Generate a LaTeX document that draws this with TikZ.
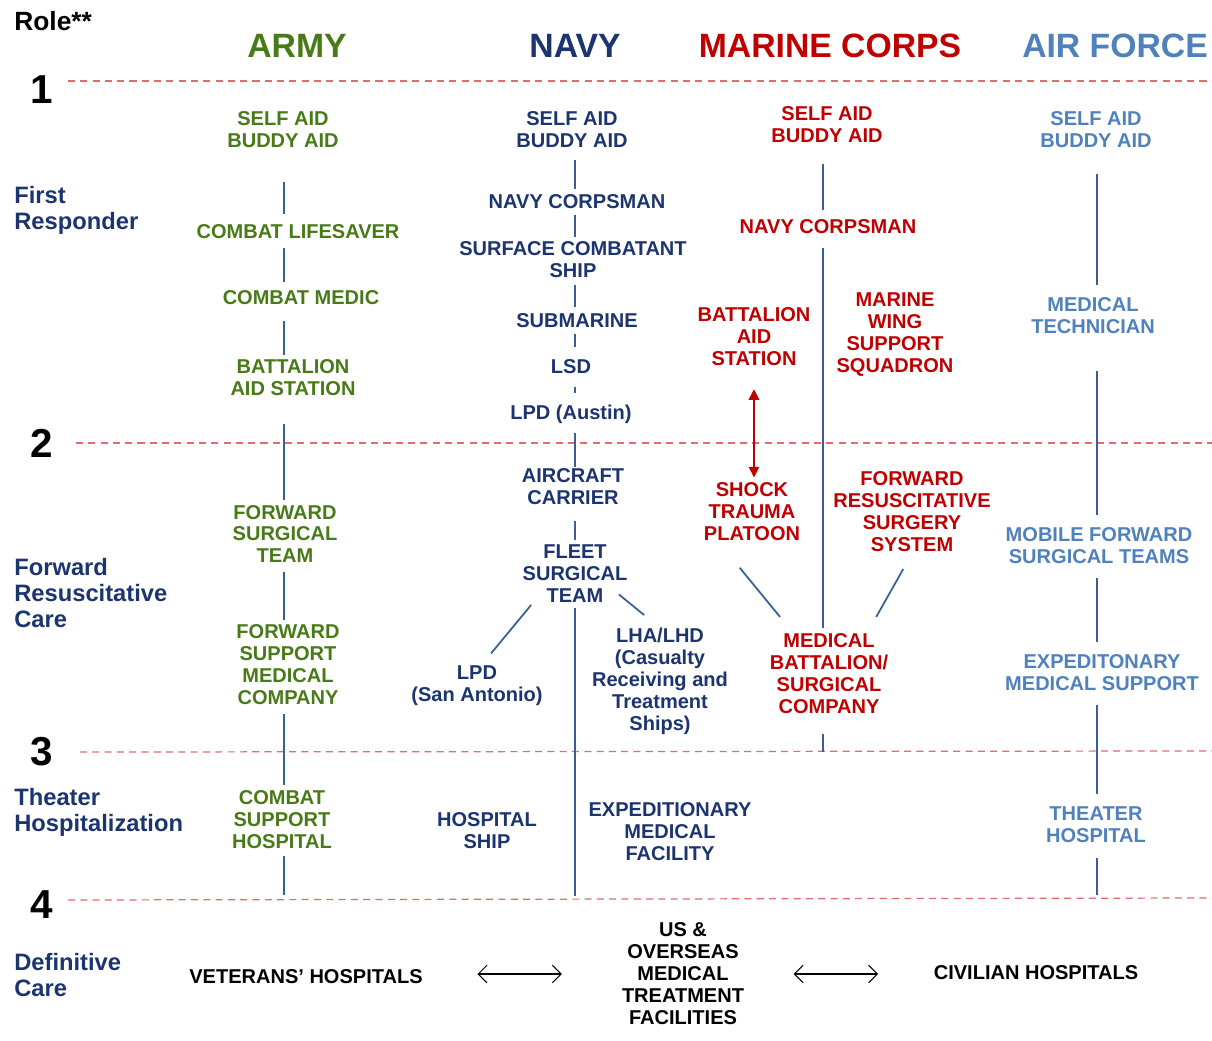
\documentclass[tikz,border=0pt]{standalone}
\usepackage{fontspec}
\setmainfont{Liberation Sans}
\usetikzlibrary{arrows.meta}

\definecolor{armyc}{HTML}{487A18}
\definecolor{navyc}{HTML}{1C3470}
\definecolor{marinec}{HTML}{C00000}
\definecolor{airc}{HTML}{4F81BD}
\definecolor{linkc}{HTML}{3A5F95}
\definecolor{rolec}{HTML}{E06C6C}

\newcommand\unitfont{\fontsize{11.4}{12.5}\selectfont\bfseries}
\newcommand\echfont{\fontsize{13.5}{14.7}\selectfont\bfseries}

\tikzset{
  unit/.style={font=\unitfont, align=center, inner sep=1pt},
  armyunit/.style={unit, text=armyc},
  navyunit/.style={unit, text=navyc},
  marineunit/.style={unit, text=marinec},
  airunit/.style={unit, text=airc},
  civunit/.style={unit, text=black},
  service/.style={font=\fontsize{19.2}{22}\selectfont\bfseries},
  rolenum/.style={font=\fontsize{23}{26}\selectfont\bfseries, inner sep=0pt},
  echelon/.style={font=\echfont, text=navyc, align=left, anchor=west, inner sep=0pt},
  link/.style={draw=linkc, line width=1pt},
  roleline/.style={draw=rolec, line width=0.7pt, dash pattern=on 4pt off 3pt},
  evac/.style={draw=marinec, line width=0.9pt,
    {Triangle[length=6pt,width=6pt]}-{Triangle[length=6pt,width=6pt]}},
  transfer/.style={line width=0.6pt,
    {Straight Barb[length=5pt,width=10pt]}-{Straight Barb[length=5pt,width=10pt]}},
}

\begin{document}
\begin{tikzpicture}[x=0.02cm, y=-0.02cm]
  \fill[white] (0,0) rectangle (1212,1040);
  \useasboundingbox (0,0) rectangle (1212,1040);

  % role boundaries
  \draw[roleline] (68,81) coordinate (r1) -- (1212,81);
  \draw[roleline] (76,443) coordinate (r2) -- (1212,443);
  \draw[roleline] (80,752) coordinate (r3) -- (1212,751);
  \draw[roleline] (68,900) coordinate (r4) -- (1212,898);

  \node[anchor=west, inner sep=0pt, font=\fontsize{15}{17}\selectfont\bfseries] (role) at (14,21) {Role**};
  \node[rolenum] (n1) at (42,90) {1};
  \node[rolenum] (n2) at (42,443) {2};
  \node[rolenum] (n3) at (42,752) {3};
  \node[rolenum] (n4) at (42,905) {4};

  \node[echelon] (e1) at (14,210) {First\\Responder};
  \node[echelon] (e2) at (14,593) {Forward\\Resuscitative\\Care};
  \node[echelon] (e3) at (14,812) {Theater\\Hospitalization};
  \node[echelon] (e4) at (14,975) {Definitive\\Care};

  % services
  \node[service, text=armyc] (army) at (297,46) {ARMY};
  \node[service, text=navyc] (navy) at (575,46) {NAVY};
  \node[service, text=marinec] (marine) at (830,46) {MARINE CORPS};
  \node[service, text=airc] (air) at (1115,46) {AIR FORCE};

  \coordinate (armyx) at (284,0);
  \coordinate (navyx) at (575,0);
  \coordinate (marinex) at (823,0);
  \coordinate (airx) at (1097,0);

  % army
  \node[armyunit] (asa) at (283,130) {SELF AID\\BUDDY AID};
  \node[armyunit] (alife) at (298,232) {COMBAT LIFESAVER};
  \node[armyunit] (amedic) at (301,298) {COMBAT MEDIC};
  \node[armyunit] (abas) at (293,378) {BATTALION\\AID STATION};
  \node[armyunit] (afst) at (285,534) {FORWARD\\SURGICAL\\TEAM};
  \node[armyunit] (afsmc) at (288,665) {FORWARD\\SUPPORT\\MEDICAL\\COMPANY};
  \node[armyunit] (acsh) at (282,820) {COMBAT\\SUPPORT\\HOSPITAL};

  \draw[link, shorten <=18pt, shorten >=5pt] (asa.south -| armyx) -- (alife.north -| armyx);
  \draw[link, shorten <=4pt, shorten >=4pt] (alife.south -| armyx) -- (amedic.north -| armyx);
  \draw[link, shorten <=8pt, shorten >=1.5pt] (amedic.south -| armyx) -- (abas.north -| armyx);
  \draw[link, shorten <=14.5pt, shorten >=1.5pt] (abas.south -| armyx) -- (afst.north -| armyx);
  \draw[link, shorten <=4pt, shorten >=1.5pt] (afst.south -| armyx) -- (afsmc.north -| armyx);
  \draw[link, shorten <=4pt, shorten >=2pt] (afsmc.south -| armyx) -- (acsh.north -| armyx);
  \draw[link, shorten <=2.5pt, shorten >=3pt] (acsh.south -| armyx) -- (r4 -| armyx);

  % navy
  \node[navyunit] (nsa) at (572,130) {SELF AID\\BUDDY AID};
  \node[navyunit] (ncorps) at (577,202) {NAVY CORPSMAN};
  \node[navyunit] (nscs) at (573,260) {SURFACE COMBATANT\\SHIP};
  \node[navyunit] (nsub) at (577,321) {SUBMARINE};
  \node[navyunit] (nlsd) at (571,367) {LSD};
  \node[navyunit] (nlpda) at (571,414) {LPD (Austin)};
  \node[navyunit] (ncv) at (573,487) {AIRCRAFT\\CARRIER};
  \node[navyunit] (nfst) at (575,574) {FLEET\\SURGICAL\\TEAM};
  \node[navyunit] (nlpds) at (477,686) {LPD\\(San Antonio)};
  \node[navyunit] (nlha) at (660,681) {LHA/LHD\\(Casualty\\Receiving and\\Treatment\\Ships)};
  \node[navyunit] (nship) at (487,831) {HOSPITAL\\SHIP};
  \node[navyunit] (nemf) at (670,832) {EXPEDITIONARY\\MEDICAL\\FACILITY};

  \draw[link, shorten <=5.5pt, shorten >=2pt] (nsa.south -| navyx) -- (ncorps.north -| navyx);
  \draw[link, shorten <=2pt, shorten >=1.5pt] (ncorps.south -| navyx) -- (nscs.north -| navyx);
  \draw[link, shorten <=2.5pt, shorten >=2.5pt] (nscs.south -| navyx) -- (nsub.north -| navyx);
  \draw[link, shorten <=2pt, shorten >=6pt] (nsub.south -| navyx) -- (nlsd.north -| navyx);
  \draw[link, shorten <=6pt, shorten >=5.5pt] (nlsd.south -| navyx) -- (nlpda.north -| navyx);
  \draw[link, shorten <=4.5pt, shorten >=0pt] (nlpda.south -| navyx) -- (ncv.north -| navyx);
  \draw[link, shorten <=8pt, shorten >=1.5pt] (ncv.south -| navyx) -- (nfst.north -| navyx);
  \draw[link, shorten <=2pt, shorten >=2pt] (nfst.south -| navyx) -- (r4 -| navyx);
  \draw[link] ([xshift=6pt]nfst.south west) -- ([xshift=8pt,yshift=6pt]nlpds.north);
  \draw[link] ([xshift=-6pt,yshift=6pt]nfst.south east) -- ([xshift=-9pt,yshift=6pt]nlha.north);

  % marine corps
  \node[marineunit] (msa) at (827,125) {SELF AID\\BUDDY AID};
  \node[marineunit] (mcorps) at (828,227) {NAVY CORPSMAN};
  \node[marineunit] (mbas) at (754,337) {BATTALION\\AID\\STATION};
  \node[marineunit] (mwss) at (895,335) {MARINE\\WING\\SUPPORT\\SQUADRON};
  \node[marineunit] (mstp) at (752,512) {SHOCK\\TRAUMA\\PLATOON};
  \node[marineunit] (mfrss) at (912,512) {FORWARD\\RESUSCITATIVE\\SURGERY\\SYSTEM};
  \node[marineunit] (mmbs) at (829,674) {MEDICAL\\BATTALION/\\SURGICAL\\COMPANY};

  \draw[link, shorten <=10.5pt, shorten >=4.5pt] (msa.south -| marinex) -- (mcorps.north -| marinex);
  \draw[link, shorten <=7pt, shorten >=2pt] (mcorps.south -| marinex) -- (mmbs.north -| marinex);
  \draw[link, shorten <=10pt] (mmbs.south -| marinex) -- (r3 -| marinex);
  \draw[link] ([xshift=-7pt,yshift=-14pt]mstp.south) -- ([xshift=7pt,yshift=8.5pt]mmbs.north west);
  \draw[link] ([xshift=-5pt,yshift=-8.5pt]mfrss.south) -- ([xshift=-8pt,yshift=8.5pt]mmbs.north east);
  \draw[evac, shorten <=12pt, shorten >=2pt] (mbas.south) -- (mbas.south |- mstp.north);

  % air force
  \node[airunit] (fsa) at (1096,130) {SELF AID\\BUDDY AID};
  \node[airunit] (fmedtech) at (1093,316) {MEDICAL\\TECHNICIAN};
  \node[airunit] (fmfst) at (1099,546) {MOBILE FORWARD\\SURGICAL TEAMS};
  \node[airunit] (fems) at (1102,673) {EXPEDITONARY\\MEDICAL SUPPORT};
  \node[airunit] (fth) at (1096,825) {THEATER\\HOSPITAL};

  \draw[link, shorten <=13.5pt, shorten >=6pt] (fsa.south -| airx) -- (fmedtech.north -| airx);
  \draw[link, shorten <=20pt, shorten >=6pt] (fmedtech.south -| airx) -- (fmfst.north -| airx);
  \draw[link, shorten <=7pt, shorten >=6pt] (fmfst.south -| airx) -- (fems.north -| airx);
  \draw[link, shorten <=6.5pt, shorten >=6.5pt] (fems.south -| airx) -- (fth.north -| airx);
  \draw[link, shorten <=7.5pt, shorten >=3pt] (fth.south -| airx) -- (r4 -| airx);

  % definitive care
  \node[civunit] (va) at (306,977) {VETERANS’ HOSPITALS};
  \node[civunit] (mtf) at (683,974) {US \&\\OVERSEAS\\MEDICAL\\TREATMENT\\FACILITIES};
  \node[civunit] (civ) at (1036,973) {CIVILIAN HOSPITALS};

  \draw[transfer, shorten <=30pt, shorten >=33pt] (mtf.west -| va.east) -- (mtf.west);
  \draw[transfer, shorten <=27pt, shorten >=30.5pt] (mtf.east) -- (mtf.east -| civ.west);
\end{tikzpicture}
\end{document}
